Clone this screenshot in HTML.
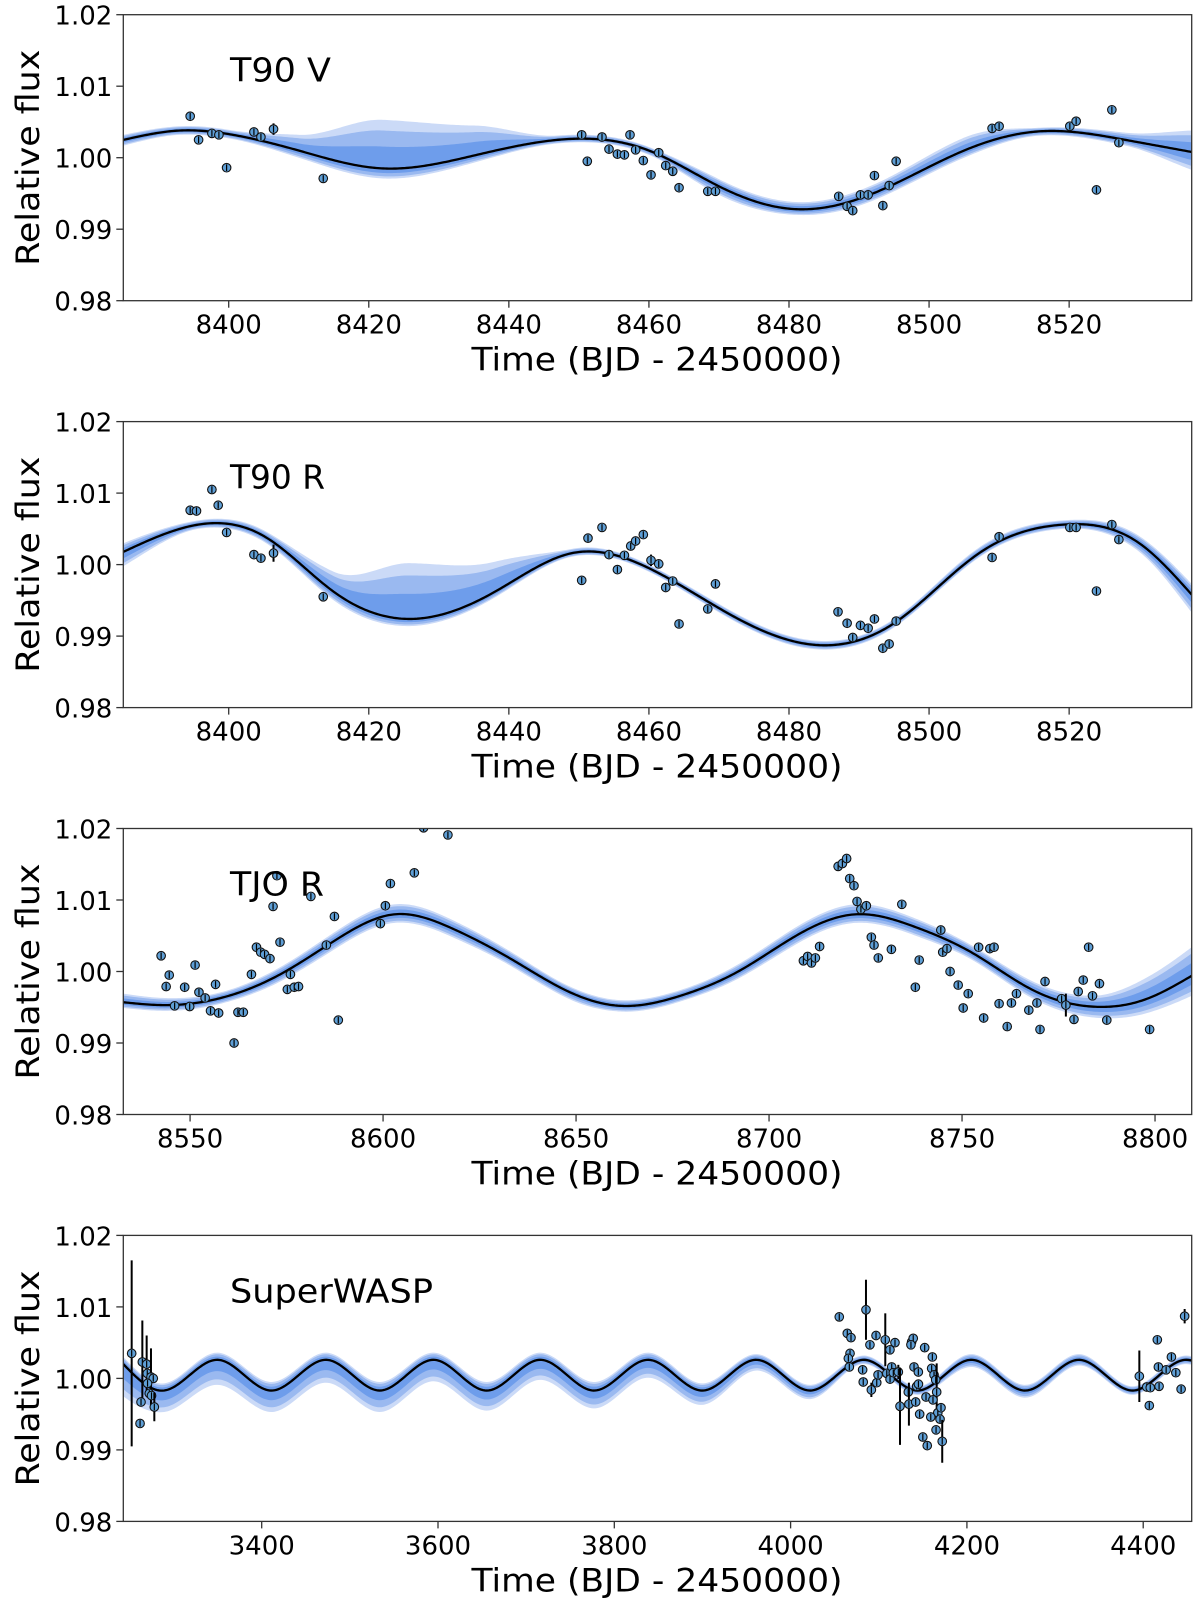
<!DOCTYPE html>
<html><head><meta charset="utf-8"><title>Light curves</title>
<style>
html,body{margin:0;padding:0;background:#fff;}
svg{display:block;font-family:"DejaVu Sans","Liberation Sans",sans-serif;}
</style></head>
<body>
<svg id="fig" width="1200" height="1607" viewBox="0 0 1200 1607" xmlns="http://www.w3.org/2000/svg"></svg>
<script>
// ---------- Panel 1: T90 V ----------
const p1Nodes=[8385,8393,8400,8410,8422,8435,8447,8460,8470,8481,8492,8505,8516,8528,8537.5];
const p1Model=[1.0025,1.0038,1.0033,1.0010,0.9985,1.0003,1.0025,1.0010,0.9960,0.9928,0.9950,1.0010,1.0037,1.0025,1.0008];
const p1Up=[.0007,.0006,.0006,.0022,.0068,.0042,.0006,.0005,.0010,.0010,.0012,.0018,.0005,.0010,.0030];
const p1Dn=[.0008,.0006,.0006,.0010,.0014,.0010,.0005,.0006,.0012,.0008,.0010,.0010,.0006,.0008,.0025];
const p1T=[8394.5,8395.7,8397.6,8398.6,8399.7,8403.6,8404.6,8406.4,8413.5,8450.4,8451.2,8453.3,8454.3,8455.5,8456.5,8457.3,8458.1,8459.2,8460.3,8461.4,8462.4,8463.4,8464.3,8468.4,8469.5,8487.1,8488.3,8489.1,8490.2,8491.3,8492.2,8493.4,8494.3,8495.3,8509.0,8510.0,8520.1,8521.0,8523.9,8526.1,8527.1];
const p1F=[1.0058,1.0025,1.0034,1.0032,0.9986,1.0036,1.0029,1.0040,0.9971,1.0032,0.9995,1.0029,1.0012,1.0005,1.0004,1.0032,1.0011,0.9996,0.9976,1.0007,0.9989,0.9981,0.9958,0.9953,0.9953,0.9946,0.9932,0.9926,0.9948,0.9948,0.9975,0.9933,0.9961,0.9995,1.0041,1.0044,1.0044,1.0051,0.9955,1.0067,1.0021];
const p1E=[.0004,.0004,.0004,.0004,.0004,.0004,.0004,.0008,.0004,.0004,.0004,.0004,.0004,.0004,.0004,.0004,.0004,.0004,.0004,.0004,.0004,.0004,.0004,.0004,.0004,.0004,.0004,.0004,.0004,.0004,.0004,.0004,.0004,.0004,.0004,.0004,.0004,.0004,.0004,.0004,.0004];
const p1Ticks=[8400,8420,8440,8460,8480,8500,8520];

// ---------- Panel 2: T90 R ----------
const p2Nodes=[8385,8395.7,8405,8415,8425.7,8438,8449,8460,8472,8483.4,8495,8507,8519.3,8530,8537.5];
const p2Model=[1.0018,1.0056,1.0040,0.9962,0.9924,0.9962,1.0016,0.9995,0.9928,0.9888,0.9918,1.0015,1.0056,1.0030,0.9958];
const p2Up=[.0012,.0006,.0008,.0028,.0078,.0042,.0006,.0005,.0006,.0006,.0006,.0008,.0006,.0010,.0015];
const p2Dn=[.0020,.0006,.0008,.0012,.0010,.0008,.0005,.0005,.0006,.0006,.0006,.0006,.0006,.0012,.0025];
const p2T=[8394.5,8395.4,8397.6,8398.5,8399.7,8403.6,8404.6,8406.4,8413.5,8450.4,8451.3,8453.3,8454.3,8455.5,8456.5,8457.4,8458.1,8459.2,8460.3,8461.4,8462.4,8463.4,8464.3,8468.4,8469.5,8487.0,8488.3,8489.1,8490.2,8491.3,8492.2,8493.4,8494.3,8495.3,8509.0,8510.0,8520.1,8521.0,8523.9,8526.1,8527.1];
const p2F=[1.0076,1.0075,1.0105,1.0083,1.0045,1.0014,1.0009,1.0016,0.9955,0.9978,1.0037,1.0052,1.0014,0.9993,1.0013,1.0026,1.0033,1.0042,1.0006,1.0001,0.9968,0.9977,0.9917,0.9938,0.9973,0.9934,0.9918,0.9898,0.9915,0.9911,0.9924,0.9883,0.9889,0.9921,1.0010,1.0039,1.0052,1.0052,0.9963,1.0056,1.0035];
const p2E=[.0004,.0004,.0004,.0004,.0004,.0004,.0004,.0012,.0004,.0004,.0004,.0004,.0004,.0004,.0004,.0004,.0004,.0004,.0008,.0004,.0004,.0004,.0004,.0004,.0004,.0004,.0004,.0004,.0004,.0004,.0004,.0004,.0004,.0004,.0004,.0004,.0004,.0004,.0004,.0004,.0004];
const p2Ticks=[8400,8420,8440,8460,8480,8500,8520];

// ---------- Panel 3: TJO R ----------
const p3Nodes=[8532.7,8543,8558,8573,8588,8603,8618,8633,8648,8661.4,8677,8692,8707,8722.5,8738,8753,8768,8783.5,8798,8809.5];
const p3Model=[0.9957,0.9953,0.9963,0.9995,1.0045,1.0080,1.0060,1.0018,0.9972,0.9952,0.9966,1.0000,1.0050,1.0080,1.0062,1.0025,0.9975,0.9951,0.9962,0.9994];
const p3Up=[.0012,.0010,.0008,.0010,.0012,.0014,.0012,.0010,.0008,.0008,.0008,.0010,.0012,.0014,.0012,.0010,.0012,.0015,.0030,.0040];
const p3Dn=[.0008,.0008,.0008,.0010,.0012,.0012,.0012,.0010,.0010,.0008,.0008,.0010,.0012,.0012,.0012,.0010,.0012,.0015,.0020,.0028];
const p3T=[8542.5,8543.8,8544.6,8546,8548.6,8549.9,8551.3,8552.3,8553.9,8555.3,8556.6,8557.4,8561.4,8562.4,8563.8,8565.9,8567.2,8568.3,8569.3,8570.7,8571.5,8572.5,8573.3,8575.2,8576,8577,8578.1,8581.3,8585.3,8587.4,8588.4,8599.3,8600.6,8601.9,8608.1,8610.5,8616.8,
8708.9,8710,8711,8712,8713.1,8717.9,8719,8720.1,8720.9,8722,8722.8,8723.8,8725.2,8726.5,8727.2,8728.3,8731.7,8734.4,8737.9,8738.9,8744.5,8745,8746.1,8746.9,8749,8750.3,8751.6,8754.3,8755.6,8757.2,8758.3,8759.6,8761.7,8762.8,8764.1,8767.3,8769.4,8770.2,8771.5,8775.8,8776.9,8779,8780.1,8781.4,8782.8,8783.8,8785.6,8787.5,8798.6];
const p3F=[1.0022,0.9979,0.9995,0.9952,0.9978,0.9951,1.0009,0.9971,0.9963,0.9945,0.9982,0.9942,0.9900,0.9943,0.9943,0.9996,1.0034,1.0027,1.0024,1.0018,1.0091,1.0134,1.0041,0.9975,0.9996,0.9978,0.9979,1.0105,1.0037,1.0077,0.9932,1.0067,1.0092,1.0123,1.0138,1.0201,1.0191,
1.0015,1.0021,1.0012,1.0019,1.0035,1.0147,1.0151,1.0158,1.0130,1.0120,1.0098,1.0087,1.0092,1.0048,1.0037,1.0019,1.0031,1.0094,0.9978,1.0016,1.0058,1.0027,1.0032,1.0000,0.9981,0.9949,0.9969,1.0034,0.9935,1.0032,1.0034,0.9955,0.9923,0.9956,0.9969,0.9946,0.9956,0.9919,0.9986,0.9962,0.9953,0.9933,0.9972,0.9988,1.0034,0.9966,0.9983,0.9932,0.9919];
const p3E=p3T.map((t,i)=> i===p3T.indexOf(8776.9)?0.0016:0.0004);
const p3Ticks=[8550,8600,8650,8700,8750,8800];

// ---------- Panel 4: SuperWASP ----------
const p4Nodes=[3243,3289,3350,3411,3473,3534,3595,3655,3716,3777,3838,3900,3961,4022,4083,4144,4205,4266,4327,4388,4449,4455];
const p4Model=[1.0020,0.9983,1.0026,0.9983,1.0026,0.9983,1.0026,0.9983,1.0026,0.9983,1.0026,0.9983,1.0026,0.9983,1.0026,0.9983,1.0026,0.9983,1.0026,0.9983,1.0026,1.0025];
const p4Up=[.0010,.0010,.0010,.0012,.0010,.0012,.0010,.0012,.0010,.0012,.0010,.0010,.0008,.0008,.0006,.0006,.0008,.0008,.0008,.0006,.0006,.0006];
const p4Dn=[.0045,.0030,.0035,.0030,.0032,.0030,.0030,.0028,.0028,.0025,.0025,.0020,.0015,.0012,.0006,.0006,.0010,.0010,.0008,.0006,.0006,.0006];
const p4T=[3252.5,3264.6,3269.5,3270.2,3274.4,3277,3270.5,3272.5,3275,3263.1,3278.2,3262,
4055.2,4085.5,4064.3,4068.5,4067.4,4065.5,4066.6,4090,4096.9,4107.4,4112.7,4118.4,4081.7,4082.4,4091.6,4097.7,4099.2,4109.1,4112.8,4114.7,4116.5,4122.2,4124.1,4133.5,4134.2,4137.3,4139.1,4136.5,4140,4144.9,4143,4145,4141.9,4146.4,4152.1,4153.6,4160.8,4160,4162.7,4164.6,4165.7,4161.5,4167,4170.6,4159,4169.5,4150,4155,4172,4165,
4395.6,4416,4417.2,4404,4408,4418,4406.9,4426,4432,4437,4443,4447];
const p4F=[1.0035,1.0023,1.0020,1.0007,1.0002,1.0000,0.9993,0.9979,0.9976,0.9967,0.9960,0.9937,
1.0086,1.0096,1.0063,1.0057,1.0035,1.0028,1.0016,1.0047,1.0060,1.0054,1.0040,1.0050,1.0012,0.9995,0.9984,0.9994,1.0005,1.0007,0.9999,1.0016,1.0008,1.0009,0.9961,0.9981,0.9964,1.0051,1.0056,1.0047,1.0016,1.0009,0.9989,0.9992,0.9967,0.9950,1.0043,0.9974,1.0030,1.0014,1.0005,0.9998,0.9981,0.9970,0.9952,0.9959,0.9946,0.9943,0.9918,0.9906,0.9912,0.9928,
1.0003,1.0054,1.0016,0.9988,0.9987,0.9989,0.9962,1.0012,1.0030,1.0008,0.9985,1.0087];
const p4E=[.0130,.0058,.0040,.0005,.0040,.0005,.0005,.0005,.0005,.0005,.0020,.0005,
.0005,.0042,.0005,.0005,.0005,.0005,.0005,.0005,.0005,.0037,.0005,.0005,.0005,.0005,.0010,.0005,.0005,.0005,.0005,.0005,.0005,.0010,.0054,.0005,.0030,.0005,.0005,.0005,.0005,.0005,.0005,.0005,.0005,.0005,.0005,.0005,.0005,.0005,.0005,.0005,.0040,.0005,.0005,.0005,.0005,.0005,.0005,.0005,.0030,.0005,
.0036,.0005,.0005,.0005,.0005,.0005,.0005,.0005,.0005,.0005,.0005,.0010];
const p4Ticks=[3400,3600,3800,4000,4200,4400];

const yTicks=[1.02,1.01,1.00,0.99,0.98];

// ---------- rendering ----------
const NS='http://www.w3.org/2000/svg';
const svg=document.getElementById('fig');
function mk(tag,attrs,parent){const e=document.createElementNS(NS,tag);for(const k in attrs)e.setAttribute(k,attrs[k]);(parent||svg).appendChild(e);return e;}

function monoInterp(xs,ys){
  const n=xs.length,d=[],m=new Array(n);
  for(let i=0;i<n-1;i++)d.push((ys[i+1]-ys[i])/(xs[i+1]-xs[i]));
  m[0]=d[0];m[n-1]=d[n-2];
  for(let i=1;i<n-1;i++){ if(d[i-1]*d[i]<=0)m[i]=0; else { const w1=2*(xs[i+1]-xs[i])+(xs[i]-xs[i-1]), w2=(xs[i+1]-xs[i])+2*(xs[i]-xs[i-1]); m[i]=(w1+w2)/(w1/d[i-1]+w2/d[i]); } }
  return function(x){
    let i=0; if(x<=xs[0])i=0; else if(x>=xs[n-1])i=n-2; else {while(x>xs[i+1])i++;}
    const h=xs[i+1]-xs[i],t=(x-xs[i])/h,t2=t*t,t3=t2*t;
    return (2*t3-3*t2+1)*ys[i]+(t3-2*t2+t)*h*m[i]+(-2*t3+3*t2)*ys[i+1]+(t3-t2)*h*m[i+1];
  };
}
function splineInterp(xs,ys){
  const n=xs.length,h=[],al=[],l=[1],mu=[0],z=[0],c=new Array(n).fill(0),b=[],d=[];
  for(let i=0;i<n-1;i++)h.push(xs[i+1]-xs[i]);
  for(let i=1;i<n-1;i++)al[i]=3/h[i]*(ys[i+1]-ys[i])-3/h[i-1]*(ys[i]-ys[i-1]);
  for(let i=1;i<n-1;i++){l[i]=2*(xs[i+1]-xs[i-1])-h[i-1]*mu[i-1];mu[i]=h[i]/l[i];z[i]=(al[i]-h[i-1]*z[i-1])/l[i];}
  for(let j=n-2;j>=0;j--){c[j]=(j>0?z[j]-mu[j]*c[j+1]:0);b[j]=(ys[j+1]-ys[j])/h[j]-h[j]*(c[j+1]+2*c[j])/3;d[j]=(c[j+1]-c[j])/(3*h[j]);}
  c[0]=0;
  for(let j=0;j<n-1;j++){b[j]=(ys[j+1]-ys[j])/h[j]-h[j]*(c[j+1]+2*c[j])/3;d[j]=(c[j+1]-c[j])/(3*h[j]);}
  return function(x){let i=0;if(x>=xs[n-1])i=n-2;else{while(i<n-2&&x>xs[i+1])i++;}const dx=x-xs[i];return ys[i]+b[i]*dx+c[i]*dx*dx+d[i]*dx*dx*dx;};
}

const L=123.3,R=1191.7,H=286,TOP0=14.7,PSTEP=406.9;
const panels=[
 {name:'t90-v',label:'T90 V',xmin:8384.95,xmax:8537.5,nodes:p1Nodes,model:p1Model,up:p1Up,dn:p1Dn,t:p1T,f:p1F,e:p1E,ticks:p1Ticks,lw:101},
 {name:'t90-r',label:'T90 R',xmin:8384.95,xmax:8537.5,nodes:p2Nodes,model:p2Model,up:p2Up,dn:p2Dn,t:p2T,f:p2F,e:p2E,ticks:p2Ticks,lw:95},
 {name:'tjo-r',label:'TJO R',xmin:8532.7,xmax:8809.5,nodes:p3Nodes,model:p3Model,up:p3Up,dn:p3Dn,t:p3T,f:p3F,e:p3E,ticks:p3Ticks,lw:94},
 {name:'superwasp',label:'SuperWASP',xmin:3243,xmax:4455,nodes:p4Nodes,model:p4Model,up:p4Up,dn:p4Dn,t:p4T,f:p4F,e:p4E,ticks:p4Ticks,lw:203}
];
const bandLevels=[{k:1,c:'#cbdaf7'},{k:0.78,c:'#9ab9f0'},{k:0.45,c:'#6e9deb'}];

panels.forEach((p,pi)=>{
  const top=TOP0+pi*PSTEP,bot=top+H;
  const xs=t=>L+(t-p.xmin)/(p.xmax-p.xmin)*(R-L);
  const ys=f=>bot-(f-0.98)/0.04*H;
  const g=mk('g',{});
  
  
  const cp=mk('clipPath',{id:'clip'+pi},g);
  mk('rect',{x:L,y:top,width:R-L,height:H},cp);
  const plot=mk('g',{'clip-path':'url(#clip'+pi+')'},g);
  const fm=splineInterp(p.nodes,p.model),fu=monoInterp(p.nodes,p.up),fd=monoInterp(p.nodes,p.dn);
  const N=600,samp=[];
  for(let i=0;i<=N;i++){const t=p.xmin+(p.xmax-p.xmin)*i/N;samp.push(t);}
  bandLevels.forEach((b,bi)=>{
    let up='',dn='';
    samp.forEach(t=>{up+=xs(t).toFixed(2)+','+ys(fm(t)+fu(t)*b.k).toFixed(2)+' ';});
    for(let i=samp.length-1;i>=0;i--){const t=samp[i];dn+=xs(t).toFixed(2)+','+ys(fm(t)-fd(t)*b.k).toFixed(2)+' ';}
    const poly=mk('polygon',{points:up+dn,fill:b.c,stroke:'none'},plot);
    
    
  });
  let d='';
  samp.forEach((t,i)=>{d+=(i?'L':'M')+xs(t).toFixed(2)+','+ys(fm(t)).toFixed(2);});
  const line=mk('path',{d:d,fill:'none',stroke:'#000','stroke-width':2.3},plot);
  
  
  p.t.forEach((t,i)=>{
    const x=xs(t),y=ys(p.f[i]),e=p.e[i];
    const eb=mk('line',{x1:x,x2:x,y1:ys(p.f[i]+e),y2:ys(p.f[i]-e),stroke:'#000','stroke-width':2},plot);
    
    
    const c=mk('circle',{cx:x,cy:y,r:4.3,fill:'#5f9fd6',stroke:'#111','stroke-width':1.1},plot);
    
    
    mk('line',{x1:x,x2:x,y1:y-3.3,y2:y+3.3,stroke:'#000','stroke-width':1.2},plot);
  });
  const fr=mk('rect',{x:L,y:top,width:R-L,height:H,fill:'none',stroke:'#333','stroke-width':1.3},g);
  
  
  yTicks.forEach(v=>{
    const y=ys(v);
    mk('line',{x1:L-7,x2:L,y1:y,y2:y,stroke:'#333','stroke-width':1.3},g);
    const tx=mk('text',{x:L-11,y:y+10,'text-anchor':'end','font-size':26,fill:'#000'},g);
    tx.textContent=v.toFixed(2);
    
    
  });
  p.ticks.forEach(v=>{
    const x=xs(v);
    mk('line',{x1:x,x2:x,y1:bot,y2:bot+7,stroke:'#333','stroke-width':1.3},g);
    const tx=mk('text',{x:x,y:bot+33,'text-anchor':'middle','font-size':26,fill:'#000'},g);
    tx.textContent=String(v);
    
    
  });
  const xl=mk('text',{x:657,y:bot+70,'text-anchor':'middle','font-size':32,fill:'#000',textLength:371,lengthAdjust:'spacingAndGlyphs'},g);
  xl.textContent='Time (BJD - 2450000)';
  
  
  const cy=top+H/2;
  const yl=mk('text',{x:0,y:0,'text-anchor':'middle','font-size':32,fill:'#000',transform:'translate(39,'+cy+') rotate(-90)',textLength:216,lengthAdjust:'spacingAndGlyphs'},g);
  yl.textContent='Relative flux';
  
  
  const tl=mk('text',{x:230,y:top+67,'font-size':33,fill:'#000',textLength:p.lw,lengthAdjust:'spacingAndGlyphs'},g);
  tl.textContent=p.label;
  
  
});
</script>
</body></html>
